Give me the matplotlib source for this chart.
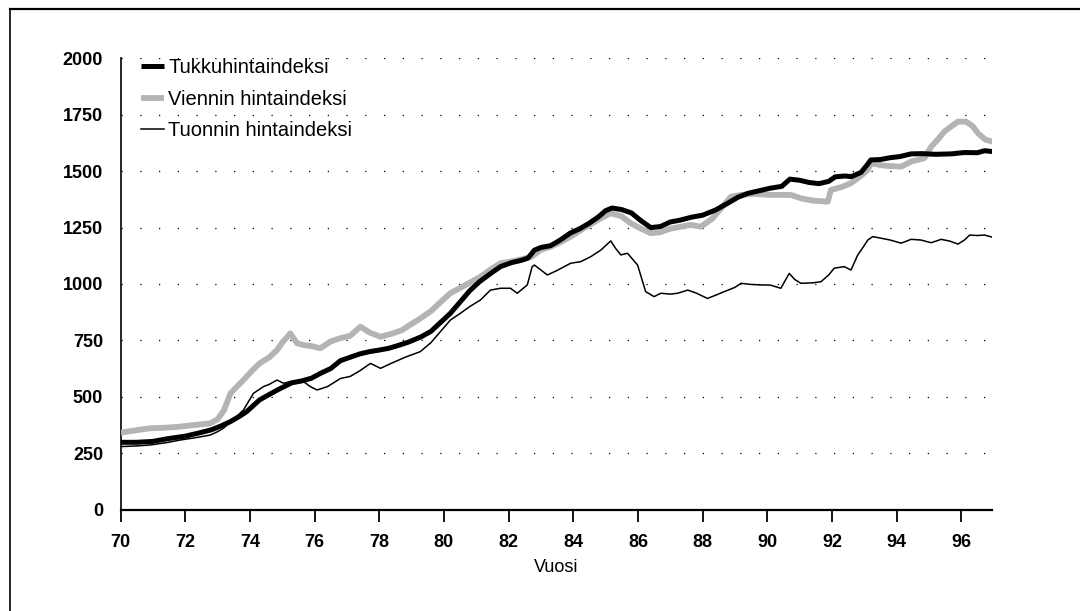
import numpy as np
import matplotlib
matplotlib.use("Agg")
from matplotlib import pyplot as plt
from matplotlib.lines import Line2D

plt.rcParams['font.family'] = ['Liberation Sans', 'DejaVu Sans']

# Tukkuhintaindeksi (wholesale price index)
tukku_year = [70.0, 70.5, 71.0, 71.5, 72.0, 72.5, 72.8, 73.1, 73.4, 73.7, 73.9, 74.1, 74.3, 74.6,
              74.85, 75.1, 75.3, 75.6, 75.9, 76.2, 76.5, 76.8, 77.1, 77.4, 77.7, 78.0, 78.3, 78.6,
              78.9, 79.3, 79.6, 79.9, 80.2, 80.5, 80.8, 81.1, 81.45, 81.75, 82.1, 82.4, 82.6, 82.8,
              83.0, 83.3, 83.6, 83.9, 84.2, 84.5, 84.8, 85.0, 85.2, 85.5, 85.8, 86.1, 86.4, 86.7,
              87.0, 87.3, 87.65, 88.0, 88.4, 88.8, 89.1, 89.4, 89.8, 90.1, 90.45, 90.7, 91.0, 91.3,
              91.6, 91.9, 92.1, 92.4, 92.6, 92.9, 93.1, 93.2, 93.5, 93.8, 94.1, 94.45, 94.8, 95.2,
              95.7, 96.1, 96.5, 96.72, 96.98]
tukku = [298, 298, 302, 315, 325, 342, 353, 370, 390, 415, 434, 460, 486, 510,
         530, 548, 562, 570, 582, 605, 625, 660, 675, 690, 700, 707, 715, 728,
         742, 766, 790, 830, 870, 920, 970, 1010, 1047, 1077, 1095, 1105, 1115, 1150,
         1162, 1170, 1195, 1225, 1245, 1270, 1300, 1325, 1337, 1330, 1315, 1280, 1250, 1255,
         1275, 1283, 1296, 1305, 1328, 1360, 1385, 1402, 1415, 1425, 1433, 1465, 1460, 1450,
         1445, 1455, 1475, 1479, 1476, 1495, 1530, 1550, 1552, 1560, 1565, 1577, 1578, 1575,
         1577, 1583, 1582, 1591, 1587]

# Viennin hintaindeksi (export price index)
vienti_year = [70.0, 70.5, 70.9, 71.4, 71.8, 72.3, 72.77, 73.0, 73.2, 73.4, 73.6, 73.8, 74.1, 74.3,
               74.6, 74.84, 75.0, 75.25, 75.46, 75.7, 75.9, 76.18, 76.5, 76.8, 77.1, 77.42, 77.7,
               78.04, 78.4, 78.7, 78.97, 79.3, 79.6, 79.9, 80.2, 80.6, 81.13, 81.4, 81.75, 82.1,
               82.4, 82.7, 82.99, 83.3, 83.6, 83.92, 84.3, 84.6, 84.9, 85.16, 85.5, 85.78, 86.1,
               86.4, 86.7, 87.0, 87.33, 87.64, 87.95, 88.3, 88.6, 88.88, 89.2, 89.6, 90.01, 90.4,
               90.73, 91.04, 91.4, 91.87, 91.97, 92.3, 92.59, 92.9, 93.11, 93.21, 93.6, 94.14,
               94.45, 94.86, 95.07, 95.3, 95.48, 95.7, 95.9, 96.15, 96.35, 96.52, 96.75, 96.98]
vienti = [341, 352, 360, 363, 367, 375, 382, 400, 440, 515, 545, 574, 620, 648,
          675, 707, 740, 781, 737, 728, 725, 715, 745, 760, 770, 811, 785,
          766, 780, 795, 820, 850, 880, 920, 959, 990, 1032, 1060, 1092, 1100,
          1110, 1120, 1151, 1165, 1185, 1210, 1245, 1270, 1295, 1314, 1300, 1269, 1245,
          1225, 1230, 1245, 1254, 1262, 1254, 1290, 1340, 1387, 1395, 1400, 1395, 1395,
          1395, 1380, 1370, 1365, 1417, 1430, 1447, 1480, 1506, 1535, 1525, 1520,
          1543, 1558, 1609, 1645, 1676, 1700, 1720, 1720, 1700, 1668, 1640, 1631]

# Tuonnin hintaindeksi (import price index)
tuonti_year = [70.0, 70.5, 70.91, 71.4, 71.84, 72.3, 72.77, 73.0, 73.18, 73.5, 73.8, 74.11, 74.42,
               74.6, 74.84, 75.04, 75.25, 75.45, 75.66, 75.87, 76.08, 76.4, 76.8, 77.1, 77.4,
               77.73, 78.04, 78.4, 78.8, 79.27, 79.6, 79.9, 80.2, 80.51, 80.8, 81.13, 81.44,
               81.75, 82.06, 82.27, 82.58, 82.73, 82.8, 83.2, 83.5, 83.92, 84.23, 84.54, 84.85,
               85.16, 85.3, 85.47, 85.68, 85.99, 86.24, 86.5, 86.71, 87.0, 87.23, 87.54, 87.8,
               88.15, 88.4, 88.67, 89.0, 89.19, 89.5, 89.8, 90.1, 90.42, 90.68, 90.85, 91.04,
               91.4, 91.66, 91.9, 92.07, 92.38, 92.59, 92.8, 92.95, 93.11, 93.26, 93.52, 93.8,
               94.14, 94.45, 94.75, 95.07, 95.38, 95.65, 95.9, 96.1, 96.26, 96.5, 96.72, 96.98]
tuonti = [279, 282, 286, 296, 308, 318, 330, 345, 360, 400, 441, 515, 545,
          555, 574, 560, 567, 565, 567, 545, 530, 545, 581, 590, 615,
          648, 626, 650, 675, 700, 740, 790, 840, 870, 900, 929, 973,
          981, 981, 959, 996, 1077, 1084, 1040, 1060, 1092, 1099, 1121, 1150,
          1191, 1160, 1129, 1136, 1084, 966, 944, 959, 955, 959, 973, 960,
          936, 950, 966, 985, 1003, 998, 996, 995, 981, 1047, 1020, 1003,
          1005, 1010, 1040, 1070, 1077, 1062, 1129, 1160, 1195, 1210, 1203, 1195,
          1181, 1198, 1195, 1183, 1198, 1190, 1177, 1195, 1217, 1215, 1217, 1207]

x_ticks = list(range(70, 97, 2))
y_ticks = [0, 250, 500, 750, 1000, 1250, 1500, 1750, 2000]

fig = plt.figure(figsize=(10.8, 6.11), dpi=100)
ax = fig.add_axes([0.1116, 0.1661, 0.8069, 0.7382])

ax.plot(vienti_year, vienti, color='#b4b4b4', lw=4.2, label='Viennin hintaindeksi', zorder=3,
        solid_capstyle='butt')
ax.plot(tukku_year, tukku, color='black', lw=3.6, label='Tukkuhintaindeksi', zorder=4,
        solid_capstyle='butt')
ax.plot(tuonti_year, tuonti, color='black', lw=1.1, label='Tuonnin hintaindeksi', zorder=5)

# dotted horizontal grid
for yv in y_ticks[1:]:
    ax.axhline(yv, color='black', lw=0.9, linestyle=(0, (1, 14)), zorder=1)

ax.set_xlim(70, 96.95)
ax.set_ylim(0, 2000)
ax.set_xticks(x_ticks, [str(t) for t in x_ticks])
ax.set_yticks(y_ticks, [str(t) for t in y_ticks])
ax.tick_params(axis='x', direction='out', length=8.5, width=1.3, pad=9, labelsize=13)
ax.tick_params(axis='y', length=0, pad=12.5, labelsize=13)
for lab in ax.get_xticklabels() + ax.get_yticklabels():
    lab.set_fontweight('bold')

ax.spines['top'].set_visible(False)
ax.spines['right'].set_visible(False)
ax.spines['left'].set_linewidth(1.2)
ax.spines['bottom'].set_linewidth(1.6)

ax.set_xlabel('Vuosi', fontsize=13, labelpad=6)

handles, labels = ax.get_legend_handles_labels()
order = [1, 0, 2]
ax.legend([handles[i] for i in order], [labels[i] for i in order],
          loc='upper left', bbox_to_anchor=(0.0235, 1.0), frameon=False,
          fontsize=14.5, handlelength=1.15, handletextpad=0.2, labelspacing=0.6,
          borderpad=0, borderaxespad=0)

# scanned page frame (top and left edges)
fig.add_artist(Line2D([0.0095, 1.0], [0.985, 0.985], color='black', lw=1.6))
fig.add_artist(Line2D([0.0095, 0.0095], [0.0, 0.985], color='black', lw=1.2))

fig.savefig('out.png', dpi=100)
